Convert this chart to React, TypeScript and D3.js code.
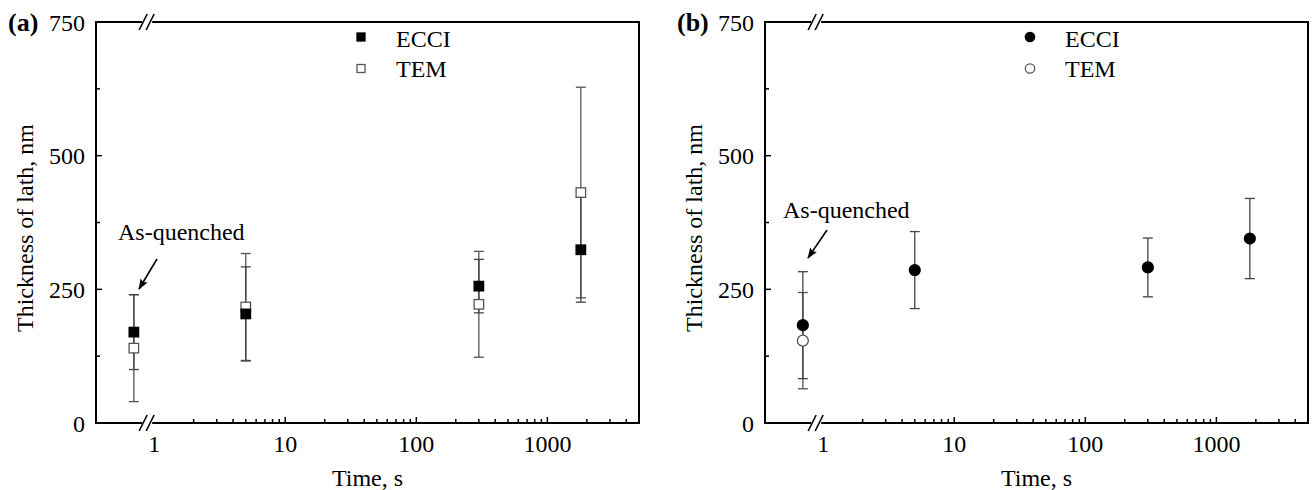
import React from "react";
import * as d3 from "d3";

// ---- data ----
const timeA = [0.7, 5, 300, 1800];
const ecciA = [170, 204, 256, 324];
const ecciErrA = [70, 88, 50, 98];
const temA = [140, 217, 222, 431];
const temErrA = [100, 100, 99, 197];

const timeB = [0.7, 5, 300, 1800];
const ecciB = [183, 286, 291, 345];
const ecciErrB = [100, 72, 55, 75];
const timeTemB = [0.7];
const temB = [154];
const temErrB = [90];

const yTicks = [0, 250, 500, 750];
const yMinorTicks = [125, 375, 625];
const xTickLabels = [1, 10, 100, 1000];
const seriesNames = ["ECCI", "TEM"];

const FONT = "'Liberation Serif', 'Times New Roman', Times, serif";
const W = 543;
const H = 401;

type PanelProps = {
  ox: number;
  label: string;
  shape: "square" | "circle";
  ecciT: number[];
  ecci: number[];
  ecciErr: number[];
  temT: number[];
  tem: number[];
  temErr: number[];
  annot: { tx: number; ty: number; x1: number; y1: number; x2: number; y2: number };
};

function Marker({ x, y, shape, filled, size = 9.5 }: { x: number; y: number; shape: string; filled: boolean; size?: number }) {
  const fill = filled ? "#000" : "#fff";
  const stroke = filled ? "#000" : "#555";
  if (shape === "square") {
    return <rect x={x - size / 2} y={y - size / 2} width={size} height={size} fill={fill} stroke={stroke} strokeWidth={1.3} />;
  }
  return <circle cx={x} cy={y} r={size / 2 + 0.7} fill={fill} stroke={stroke} strokeWidth={1.3} />;
}

function Panel(p: PanelProps) {
  const x = d3.scaleLog().domain([0.36, 5000]).range([0, W]);
  const y = d3.scaleLinear().domain([0, 750]).range([H, 0]);
  const minorX: number[] = [];
  [1, 10, 100, 1000].forEach((d) => {
    for (let k = 2; k <= 9; k++) {
      const v = d * k;
      if (v < 5000) minorX.push(v);
    }
  });
  const majorX = [10, 100, 1000];
  const err = (t: number[], v: number[], e: number[], color: string) =>
    t.map((ti, i) => {
      const cx = x(ti);
      const y1 = y(v[i] + e[i]);
      const y2 = y(v[i] - e[i]);
      return (
        <g key={i} stroke={color} strokeWidth={1.3}>
          <line x1={cx} x2={cx} y1={y1} y2={y2} />
          <line x1={cx - 5} x2={cx + 5} y1={y1} y2={y1} />
          <line x1={cx - 5} x2={cx + 5} y1={y2} y2={y2} />
        </g>
      );
    });
  const brkX = x(0.9);
  const Break = ({ yy }: { yy: number }) => (
    <g>
      <rect x={brkX - 6} y={yy - 3} width={10} height={6} fill="#fff" />
      <line x1={brkX - 9} y1={yy + 8} x2={brkX - 1} y2={yy - 8} stroke="#000" strokeWidth={1.6} />
      <line x1={brkX - 2} y1={yy + 8} x2={brkX + 6} y2={yy - 8} stroke="#000" strokeWidth={1.6} />
    </g>
  );
  const a = p.annot;
  return (
    <g transform={`translate(${p.ox},22)`} fontFamily={FONT} fill="#000">
      {/* frame */}
      <rect x={0} y={0} width={W} height={H} fill="none" stroke="#000" strokeWidth={2} />
      <Break yy={0} />
      <Break yy={H} />
      {/* y ticks */}
      {yTicks.map((t) => (
        <g key={t}>
          <line x1={0} x2={6} y1={y(t)} y2={y(t)} stroke="#000" strokeWidth={1.5} />
          <text x={-11} y={y(t) + 8.5} fontSize={24} textAnchor="end">
            {t}
          </text>
        </g>
      ))}
      {yMinorTicks.map((t) => (
        <line key={t} x1={0} x2={4} y1={y(t)} y2={y(t)} stroke="#000" strokeWidth={1.5} />
      ))}
      {/* x ticks */}
      {majorX.map((t) => (
        <line key={t} x1={x(t)} x2={x(t)} y1={H} y2={H - 6} stroke="#000" strokeWidth={1.5} />
      ))}
      {minorX.map((t) => (
        <line key={t} x1={x(t)} x2={x(t)} y1={H} y2={H - 4} stroke="#000" strokeWidth={1.5} />
      ))}
      {xTickLabels.map((t) => (
        <text key={t} x={x(t)} y={H + 29} fontSize={24} textAnchor="middle">
          {t}
        </text>
      ))}
      <text x={W / 2} y={H + 63} fontSize={24} textAnchor="middle">
        Time, s
      </text>
      <text transform={`translate(-63,${206}) rotate(-90)`} fontSize={24} textAnchor="middle">
        Thickness of lath, nm
      </text>
      <text x={-88} y={9} fontSize={26} fontWeight="bold">
        {p.label}
      </text>
      {/* error bars */}
      {err(p.temT, p.tem, p.temErr, "#555")}
      {err(p.ecciT, p.ecci, p.ecciErr, "#444")}
      {p.temT.map((t, i) => (
        <Marker key={"t" + i} x={x(t)} y={y(p.tem[i])} shape={p.shape} filled={false} />
      ))}
      {p.ecciT.map((t, i) => (
        <Marker key={"e" + i} x={x(t)} y={y(p.ecci[i])} shape={p.shape} filled={true} />
      ))}
      {/* legend */}
      {seriesNames.map((s, i) => (
        <g key={s}>
          <Marker x={265} y={15 + i * 31.5} shape={p.shape} filled={i === 0} size={8} />
          <text x={300} y={24.5 + i * 30} fontSize={24}>
            {s}
          </text>
        </g>
      ))}
      {/* annotation */}
      <text x={a.tx} y={a.ty} fontSize={24}>
        As-quenched
      </text>
      <line x1={a.x1} y1={a.y1} x2={a.x2} y2={a.y2} stroke="#000" strokeWidth={1.6} markerEnd="url(#arrow)" />
    </g>
  );
}

export default function App() {
  return (
    <svg width={1314} height={490} style={{ position: "absolute", left: 0, top: 0, background: "#fff" }}>
      <defs>
        <marker id="arrow" viewBox="0 0 12 10" refX={11} refY={5} markerWidth={12} markerHeight={9} orient="auto" markerUnits="userSpaceOnUse">
          <path d="M0,0.5 L12,5 L0,9.5 L2,5 Z" fill="#000" />
        </marker>
      </defs>
      <rect width={1314} height={490} fill="#fff" />
      <Panel
        ox={96}
        label="(a)"
        shape="square"
        ecciT={timeA}
        ecci={ecciA}
        ecciErr={ecciErrA}
        temT={timeA}
        tem={temA}
        temErr={temErrA}
        annot={{ tx: 22, ty: 218, x1: 61, y1: 237, x2: 43, y2: 267 }}
      />
      <Panel
        ox={765}
        label="(b)"
        shape="circle"
        ecciT={timeB}
        ecci={ecciB}
        ecciErr={ecciErrB}
        temT={timeTemB}
        tem={temB}
        temErr={temErrB}
        annot={{ tx: 18, ty: 196, x1: 62, y1: 208, x2: 43, y2: 236 }}
      />
    </svg>
  );
}
